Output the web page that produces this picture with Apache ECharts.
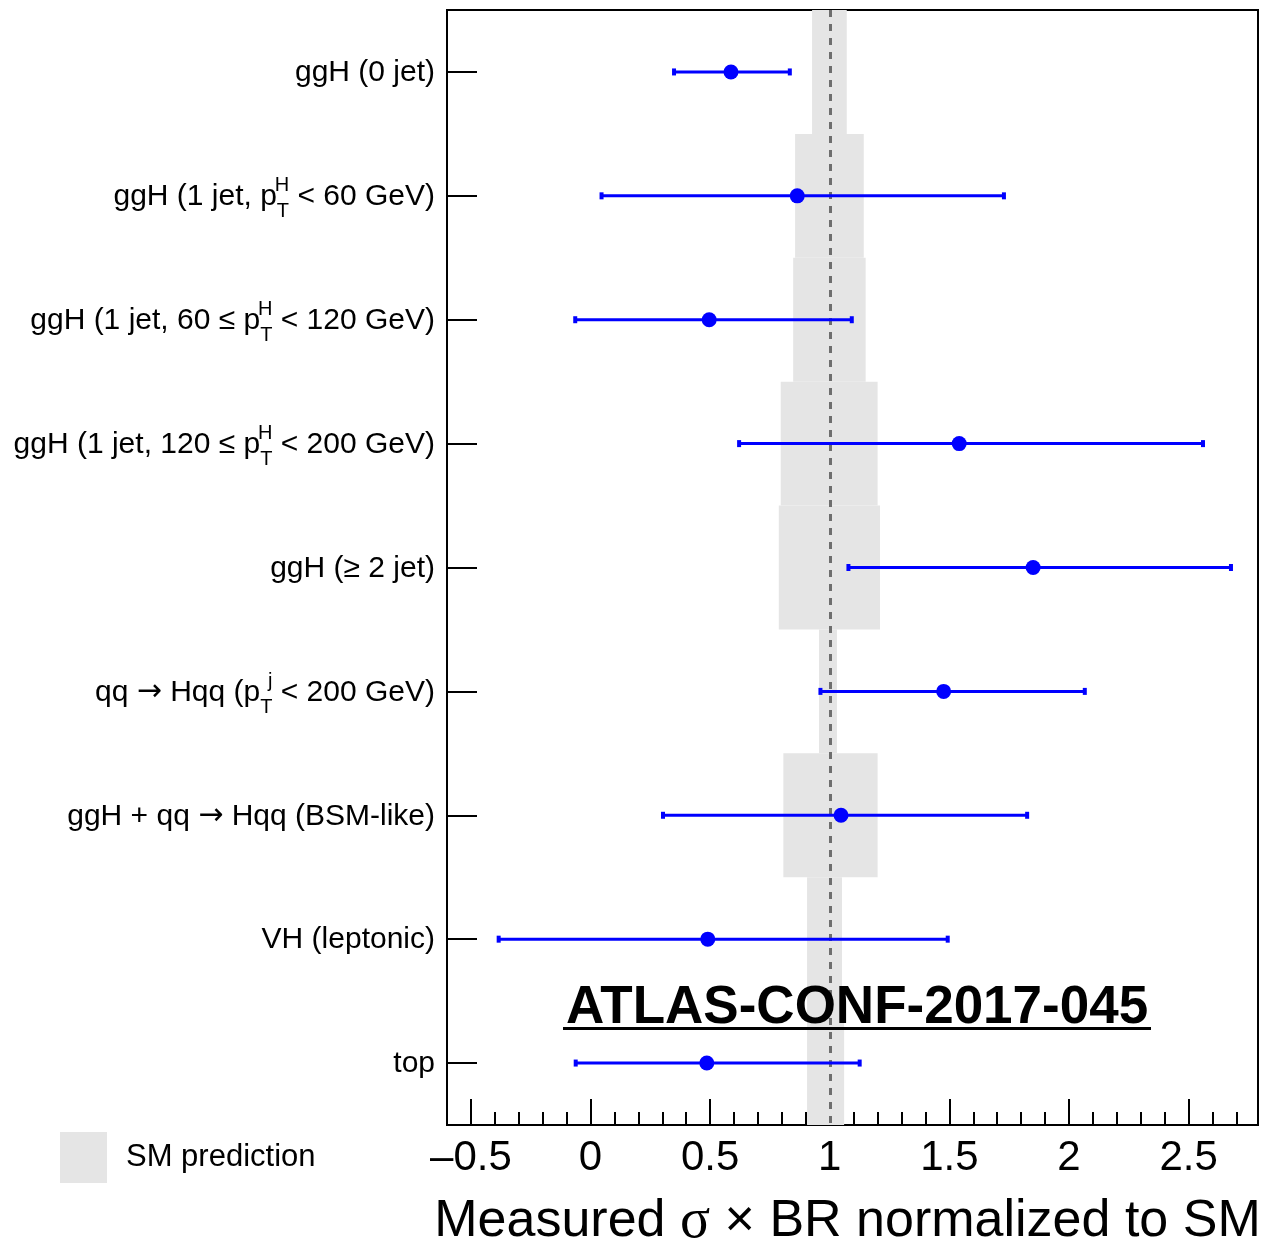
<!DOCTYPE html>
<html>
<head>
<meta charset="utf-8">
<script src="https://cdn.jsdelivr.net/npm/echarts@6/dist/echarts.min.js"></script>
<style>
  html, body { margin: 0; padding: 0; background: #fff; }
  #main { width: 1267px; height: 1246px; }
</style>
</head>
<body>
<div id="main"></div>
<script>
// categories, top to bottom
const categories = [
  'ggH (0 jet)',
  'ggH (1 jet, pT < 60 GeV)',
  'ggH (1 jet, 60 <= pT < 120 GeV)',
  'ggH (1 jet, 120 <= pT < 200 GeV)',
  'ggH (>= 2 jet)',
  'qq -> Hqq (pTj < 200 GeV)',
  'ggH + qq -> Hqq (BSM-like)',
  'VH (leptonic)',
  'top'
];
// axis label text with super/subscripts (rich text)
const tickLabels = [
  'ggH (0 jet)',
  'ggH (1 jet, p{sub|T}{sup|H} < 60 GeV)',
  'ggH (1 jet, 60 \u2264 p{sub|T}{sup|H} < 120 GeV)',
  'ggH (1 jet, 120 \u2264 p{sub|T}{sup|H} < 200 GeV)',
  'ggH (\u2265 2 jet)',
  'qq {arr|\u2192} Hqq (p{sub|T}{sup|j} < 200 GeV)',
  'ggH + qq {arr|\u2192} Hqq (BSM-like)',
  'VH (leptonic)',
  'top'
];

const measured = [0.587, 0.864, 0.496, 1.541, 1.85, 1.476, 1.047, 0.49, 0.486];
const errLow   = [0.349, 0.046, -0.064, 0.621, 1.078, 0.961, 0.303, -0.384, -0.062];
const errHigh  = [0.833, 1.728, 1.092, 2.56, 2.677, 2.066, 1.825, 1.493, 1.125];
// SM prediction uncertainty band
const smLow  = [0.926, 0.855, 0.847, 0.795, 0.787, 0.955, 0.806, 0.905, 0.905];
const smHigh = [1.071, 1.142, 1.15, 1.2, 1.21, 1.03, 1.2, 1.051, 1.06];

const xTicks = [-0.5, 0, 0.5, 1, 1.5, 2, 2.5];
const xMinorTicks = [];
for (let i = -5; i <= 27; i++) xMinorTicks.push(i / 10);

const FONT = "'Liberation Sans', Arial, Helvetica, sans-serif";
const BLUE = '#0000ff';

const chart = echarts.init(document.getElementById('main'));

function renderBand(params, api) {
  const lo = api.coord([api.value(0), api.value(2)]);
  const hi = api.coord([api.value(1), api.value(2)]);
  const h = api.size([0, 1])[1];
  return {
    type: 'rect',
    shape: { x: lo[0], y: lo[1] - h / 2, width: hi[0] - lo[0], height: h },
    style: { fill: '#e5e5e5' }
  };
}

function renderErr(params, api) {
  const lo = api.coord([api.value(0), api.value(2)]);
  const hi = api.coord([api.value(1), api.value(2)]);
  return {
    type: 'group',
    children: [
      { type: 'line', shape: { x1: lo[0], y1: lo[1], x2: hi[0], y2: hi[1] }, style: { stroke: BLUE, lineWidth: 3 } },
      { type: 'rect', shape: { x: lo[0] - 2, y: lo[1] - 3.5, width: 4, height: 7 }, style: { fill: BLUE } },
      { type: 'rect', shape: { x: hi[0] - 2, y: hi[1] - 3.5, width: 4, height: 7 }, style: { fill: BLUE } }
    ]
  };
}

const option = {
  backgroundColor: '#ffffff',
  animation: false,
  textStyle: { fontFamily: FONT },
  grid: {
    left: 447, right: 9, top: 10, bottom: 121,
    outerBoundsMode: 'none',
    show: true, borderColor: '#000', borderWidth: 2
  },
  legend: {
    data: [{ name: 'SM prediction', icon: 'rect' }],
    left: 55, top: 1127,
    itemWidth: 47, itemHeight: 51,
    selectedMode: false,
    textStyle: { fontSize: 31, color: '#000', fontFamily: FONT, padding: [0, 0, 0, 14] }
  },
  xAxis: [{
    type: 'value',
    min: -0.6, max: 2.79,
    position: 'bottom',
    splitLine: { show: false },
    axisLine: { show: true, onZero: false, lineStyle: { color: '#000', width: 2 } },
    axisTick: { show: true, inside: true, length: 26, customValues: xTicks, lineStyle: { color: '#000', width: 2 } },
    axisLabel: {
      customValues: xTicks,
      fontSize: 42, color: '#000', fontFamily: FONT, margin: 12,
      formatter: v => (v < 0 ? '\u2013' + Math.abs(v) : String(v))
    },
    name: 'Measured {s|\u03c3} \u00d7 BR normalized to SM',
    nameLocation: 'middle',
    nameGap: 69,
    nameTextStyle: {
      fontSize: 52, color: '#000', fontFamily: FONT, padding: [0, 10, 0, 0],
      rich: { s: { fontSize: 56, fontFamily: "'Liberation Serif', 'Times New Roman', serif", color: '#000' } }
    }
  }, {
    type: 'value',
    min: -0.6, max: 2.79,
    position: 'bottom',
    splitLine: { show: false },
    axisLine: { show: false, onZero: false },
    axisTick: { show: true, inside: true, length: 13, customValues: xMinorTicks, lineStyle: { color: '#000', width: 2 } },
    axisLabel: { show: false }
  }],
  yAxis: {
    type: 'category',
    data: categories,
    inverse: true,
    axisLine: { show: true, onZero: false, lineStyle: { color: '#000', width: 2 } },
    axisTick: { show: true, inside: true, length: 30, alignWithLabel: true, lineStyle: { color: '#000', width: 2 } },
    splitLine: { show: false },
    axisLabel: {
      margin: 12,
      fontSize: 30,
      lineHeight: 50,
      color: '#000',
      fontFamily: FONT,
      padding: [2, 0, 0, 0],
      formatter: (v, i) => tickLabels[i],
      rich: {
        sub: { fontSize: 20, fontFamily: FONT, color: '#000', verticalAlign: 'bottom' },
        sup: { fontSize: 20, fontFamily: FONT, color: '#000', verticalAlign: 'top', width: 0, padding: [4, 0, 0, 0] },
        arr: { fontSize: 30, fontFamily: "'DejaVu Sans', sans-serif", color: '#000' }
      }
    }
  },
  series: [{
    name: 'SM prediction',
    type: 'custom',
    renderItem: renderBand,
    itemStyle: { color: '#e5e5e5' },
    encode: { x: [0, 1], y: 2 },
    data: categories.map((c, i) => [smLow[i], smHigh[i], i]),
    z: 1,
    silent: true
  }, {
    name: 'errors',
    type: 'custom',
    renderItem: renderErr,
    encode: { x: [0, 1], y: 2 },
    data: categories.map((c, i) => [errLow[i], errHigh[i], i]),
    z: 3,
    silent: true
  }, {
    name: 'measured',
    type: 'scatter',
    symbol: 'circle',
    symbolSize: 15,
    itemStyle: { color: BLUE, opacity: 1 },
    data: categories.map((c, i) => [measured[i], i]),
    z: 4,
    silent: true,
    markLine: {
      silent: true,
      symbol: 'none',
      label: { show: false },
      z: 2,
      lineStyle: { color: '#6e6e6e', type: [7, 7], width: 3 },
      data: [{ xAxis: 1 }]
    }
  }],
  graphic: [{
    type: 'text',
    left: 566, top: 982,
    style: { text: 'ATLAS-CONF-2017-045', fontSize: 53, fontWeight: 'bold', fontFamily: FONT, fill: '#000' },
    z: 10
  }, {
    type: 'rect',
    shape: { x: 563, y: 1027, width: 588, height: 3 },
    style: { fill: '#000' },
    z: 10
  }]
};

chart.setOption(option);
</script>
</body>
</html>
